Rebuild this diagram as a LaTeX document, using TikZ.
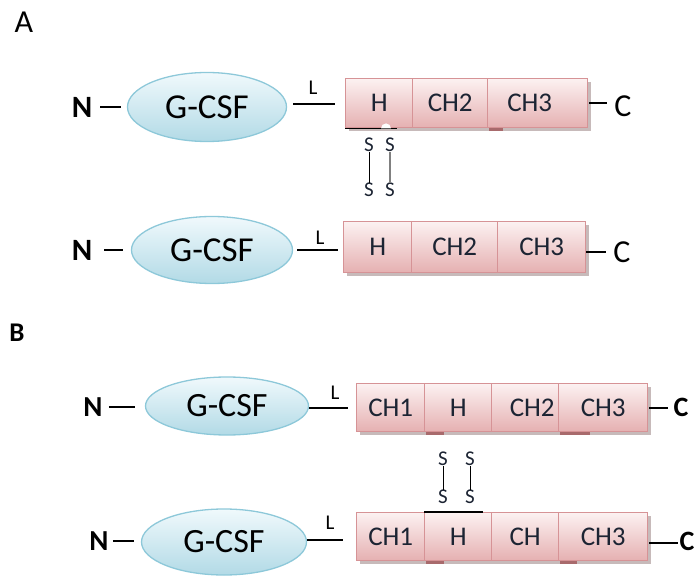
\documentclass[tikz,border=0pt]{standalone}
\usepackage{fontspec}
\setmainfont{Carlito}
\usetikzlibrary{shapes.geometric,shadows,calc}
\definecolor{boxline}{HTML}{D69396}
\definecolor{boxtop}{HTML}{FCF1F1}
\definecolor{boxbot}{HTML}{E5B0B1}
\definecolor{shadowc}{HTML}{B9A9A9}
\definecolor{markc}{HTML}{A86A6C}
\definecolor{ellline}{HTML}{8DC8D9}
\definecolor{elltop}{HTML}{F0F9FC}
\definecolor{ellbot}{HTML}{B2DAE6}
\definecolor{txt}{HTML}{1C2433}
\begin{document}
\begin{tikzpicture}[x=1pt,y=-1pt,
  dom/.style={draw=boxline, line width=1.4pt, top color=boxtop, bottom color=boxbot,
    anchor=north west, inner sep=0pt, text=txt, font=\fontsize{27}{27}\selectfont,
    drop shadow={shadow xshift=3pt, shadow yshift=-3pt, fill=shadowc, opacity=0.8}},
  gcsf/.style={ellipse, draw=ellline, line width=1.3pt, top color=elltop, bottom color=ellbot,
    inner sep=0pt, font=\fontsize{35}{35}\selectfont},
  lab/.style={inner sep=0pt},
  nterm/.style={inner sep=0pt, font=\fontsize{31}{31}\selectfont\bfseries},
  cterm/.style={inner sep=0pt, font=\fontsize{32}{32}\selectfont},
  cbold/.style={inner sep=0pt, font=\fontsize{28}{28}\selectfont\bfseries},
  lname/.style={inner sep=0pt, font=\fontsize{21}{21}\selectfont},
  sname/.style={inner sep=0pt, text=txt, font=\fontsize{21}{21}\selectfont},
  conn/.style={line width=2pt, black},
  bond/.style={line width=1pt, black}]
\useasboundingbox (0,0) rectangle (696,577);

% ---------------- Panel A ----------------
\node[lab, font=\fontsize{32}{32}\selectfont] (labA) at (24,22) {A};

% row A1
\node[nterm] (nA1) at (82,107) {N};
\node[gcsf, minimum width=159pt, minimum height=69pt] (gA1) at (207,107) {G-CSF};
\node[dom, minimum width=67pt, minimum height=49pt] (hA1) at (345,78) {H};
\node[dom, minimum width=75pt, minimum height=49pt] (ch2A1) at (412,78) {CH2};
\node[dom, minimum width=100pt, minimum height=49pt, text width=100pt, align=center] (ch3A1) at (487,78) {CH3\hspace*{16pt}};
\node[cterm] (cA1) at (623,106) {C};
\node[lname] (lA1) at (313,88) {L};
\draw[conn] ($(nA1.east)+(8,0)$) -- ($(gA1.west)+(-6,0)$);
\draw[conn] ($(gA1.east |- hA1.west)+(6,1)$) -- ($(hA1.west)+(-10,1)$);
\draw[conn] ($(ch3A1.east)+(1,0)$) -- ($(cA1.west |- ch3A1.east)+(-7,0)$);
\fill[markc] (489,128) rectangle (503,131);
\draw[line width=1.2pt, black] (hA1.south west) -- ($(hA1.south west)+(52,0)$);
\fill[white] ($(hA1.south west)+(36,0)$) arc[start angle=180, end angle=360, radius=5];
\node[sname] (sA1a) at (369,145) {S};
\node[sname] (sA1b) at (390,145) {S};
\node[sname] (sA1c) at (369,190) {S};
\node[sname] (sA1d) at (390,190) {S};
\draw[bond] (sA1a) -- (sA1c);
\draw[line width=1.8pt, gray] (sA1b) -- (sA1d);

% row A2
\node[nterm] (nA2) at (82,250) {N};
\node[gcsf, minimum width=161pt, minimum height=67pt] (gA2) at (212,250) {G-CSF};
\node[dom, minimum width=68pt, minimum height=51pt] (hA2) at (343,221) {H};
\node[dom, minimum width=86pt, minimum height=51pt] (ch2A2) at (411,221) {CH2};
\node[dom, minimum width=88pt, minimum height=51pt] (ch3A2) at (497,221) {CH3};
\node[cterm] (cA2) at (622,252) {C};
\node[lname] (lA2) at (320,238) {L};
\draw[conn] ($(nA2.east)+(12,0)$) -- ($(gA2.west)+(-8,0)$);
\draw[conn] ($(gA2.east |- hA2.west)+(4,3)$) -- ($(hA2.west)+(-5,3)$);
\draw[conn] ($(ch3A2.east)+(0,5)$) -- ($(cA2.west |- ch3A2.east)+(-7,5)$);

% ---------------- Panel B ----------------
\node[lab, font=\fontsize{27}{27}\selectfont\bfseries] (labB) at (17,333) {B};

% row B1
\node[nterm, font=\fontsize{29}{29}\selectfont\bfseries] (nB1) at (93,407) {N};
\node[gcsf, minimum width=163pt, minimum height=58pt, font=\fontsize{34}{34}\selectfont] (gB1) at (227,406) {G-CSF};
\node[dom, minimum width=68pt, minimum height=48pt] (ch1B1) at (356,383) {CH1};
\node[dom, minimum width=67pt, minimum height=48pt] (hB1) at (424,383) {H};
\node[dom, minimum width=67pt, minimum height=48pt, text width=67pt, align=center] (ch2B1) at (491,383) {\hspace*{14pt}CH2};
\node[dom, minimum width=89pt, minimum height=48pt] (ch3B1) at (558,383) {CH3};
\node[cbold] (cB1) at (681,407) {C};
\node[lname] (lB1) at (335,393) {L};
\draw[conn] ($(nB1.east)+(6,0)$) -- ($(gB1.west |- nB1.east)+(-10,0)$);
\draw[conn] ($(gB1.east |- ch1B1.west)+(0,0)$) -- ($(ch1B1.west)+(-8,0)$);
\draw[conn] ($(ch3B1.east)+(1,0)$) -- ($(cB1.west |- ch3B1.east)+(-5,0)$);
\fill[markc] (426,432) rectangle (444,435);
\fill[markc] (560,432) rectangle (590,435);

% bonds B
\node[sname] (sBa) at (443,459) {S};
\node[sname] (sBb) at (470,459) {S};
\node[sname] (sBc) at (443,497) {S};
\node[sname] (sBd) at (470,497) {S};
\draw[bond] (sBa) -- (sBc);
\draw[bond] (sBb) -- (sBd);

% row B2
\node[nterm, font=\fontsize{29}{29}\selectfont\bfseries] (nB2) at (99,541) {N};
\node[gcsf, minimum width=165pt, minimum height=66pt, font=\fontsize{34}{34}\selectfont] (gB2) at (224,542) {G-CSF};
\node[dom, minimum width=68pt, minimum height=48pt] (ch1B2) at (356,512) {CH1};
\node[dom, minimum width=67pt, minimum height=48pt] (hB2) at (424,512) {H};
\node[dom, minimum width=67pt, minimum height=48pt] (chB2) at (491,512) {CH};
\node[dom, minimum width=89pt, minimum height=48pt] (ch3B2) at (558,512) {CH3};
\node[cbold] (cB2) at (687,541) {C};
\node[lname] (lB2) at (330,523) {L};
\draw[conn] ($(nB2.east)+(4,0)$) -- ($(gB2.west |- nB2.east)+(-7,0)$);
\draw[conn] ($(gB2.east)+(0,-2)$) -- ($(ch1B2.west |- gB2.east)+(-13,-2)$);
\draw[conn] ($(ch3B2.east)+(1,6)$) -- ($(cB2.west |- ch3B2.east)+(-1,6)$);
\draw[line width=1.2pt, black] (hB2.north west) -- ($(hB2.north west)+(59,0)$);
\fill[markc] (426,561) rectangle (444,564);
\fill[markc] (560,561) rectangle (577,564);
\end{tikzpicture}
\end{document}
